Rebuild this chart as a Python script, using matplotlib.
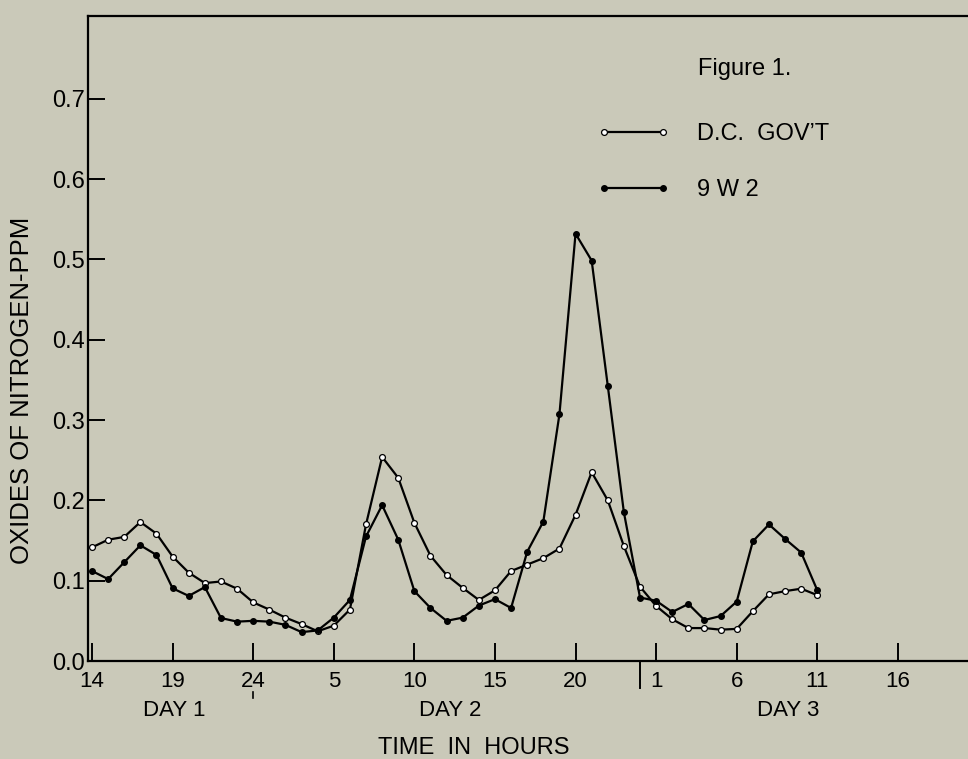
import numpy as np
import matplotlib
matplotlib.use("Agg")
import matplotlib.pyplot as plt

# hours counted from midnight of day 1 (14 = 2 p.m. day 1, 48 = midnight day 2/3)
hours = list(range(14, 60))
dc_govt = [0.1415, 0.151, 0.1545, 0.173, 0.1585, 0.130, 0.110, 0.097, 0.099, 0.090,
           0.073, 0.064, 0.054, 0.046, 0.037, 0.044, 0.064, 0.170, 0.254, 0.228,
           0.172, 0.131, 0.107, 0.091, 0.076, 0.088, 0.112, 0.120, 0.128, 0.140,
           0.182, 0.235, 0.200, 0.143, 0.0925, 0.0685, 0.052, 0.041, 0.041, 0.039,
           0.040, 0.062, 0.083, 0.087, 0.090, 0.082]
w92 = [0.112, 0.102, 0.123, 0.144, 0.132, 0.0905, 0.081, 0.092, 0.0535, 0.049,
       0.050, 0.049, 0.045, 0.036, 0.038, 0.054, 0.076, 0.155, 0.194, 0.151,
       0.087, 0.066, 0.050, 0.054, 0.069, 0.077, 0.066, 0.136, 0.1735, 0.307,
       0.532, 0.4985, 0.3425, 0.185, 0.079, 0.075, 0.061, 0.071, 0.051, 0.056,
       0.074, 0.149, 0.170, 0.152, 0.135, 0.088]

xticks = [14, 19, 24, 29, 34, 39, 44, 49, 54, 59, 64]
xtick_labels = ["14", "19", "24", "5", "10", "15", "20", "1", "6", "11", "16"]
yticks = [0.0, 0.1, 0.2, 0.3, 0.4, 0.5, 0.6, 0.7]
days = ["DAY 1", "DAY 2", "DAY 3"]
day_pos = [19.1, 36.2, 57.2]

bg = "#cac9b9"
plt.rcParams['font.family'] = ['Liberation Sans', 'DejaVu Sans']

fig = plt.figure(figsize=(9.68, 7.59), dpi=100, facecolor=bg)
ax = fig.add_axes([88 / 968, 1 - 661 / 759, 1 - 88 / 968, (661 - 16) / 759])
ax.set_facecolor(bg)

ax.plot(hours, dc_govt, color="black", lw=1.6, marker="o", ms=4.2,
        mfc="white", mec="black", mew=0.9, label="D.C.  GOV\u2019T")
ax.plot(hours, w92, color="black", lw=1.6, marker="o", ms=4.0,
        mfc="black", mec="black", label="9 W 2")

ax.set_xlim(13.75, 68.35)
ax.set_ylim(0.0, 0.803)

ax.spines['right'].set_visible(False)
for s in ['left', 'top', 'bottom']:
    ax.spines[s].set_linewidth(1.6)

ax.set_yticks(yticks)
ax.set_yticklabels(["%.1f" % v for v in yticks], fontsize=17)
ax.set_xticks(xticks)
ax.set_xticklabels(xtick_labels, fontsize=16)
ax.tick_params(axis='y', direction='in', length=12, width=1.4, pad=2)
ax.tick_params(axis='x', direction='in', length=13, width=1.4, pad=7)

# day separator and small mark under 24
xt = ax.get_xaxis_transform()
ax.plot([48, 48], [0, -0.042], color="black", lw=1.4, transform=xt, clip_on=False)
ax.plot([24, 24], [-0.048, -0.057], color="black", lw=1.2, transform=xt, clip_on=False)

for d, p in zip(days, day_pos):
    ax.text(p, -0.076, d, transform=xt, ha="center", va="center", fontsize=16)
ax.text(37.7, -0.135, "TIME  IN  HOURS", transform=xt, ha="center", va="center",
        fontsize=17)

fig.text(22 / 968, 1 - 390 / 759, "OXIDES OF NITROGEN-PPM", rotation=90,
         ha="center", va="center", fontsize=18.5)
fig.text(698 / 968, 1 - 69 / 759, "Figure 1.", ha="left", va="center", fontsize=17)

ax.legend(loc="upper left", bbox_to_anchor=(597 / 968, 1 - 123 / 759),
          bbox_transform=fig.transFigure, frameon=False, fontsize=17,
          numpoints=2, handlelength=3.1, handletextpad=1.15, labelspacing=1.45,
          borderpad=0, borderaxespad=0)

fig.savefig("out.png", dpi=100, facecolor=bg)
